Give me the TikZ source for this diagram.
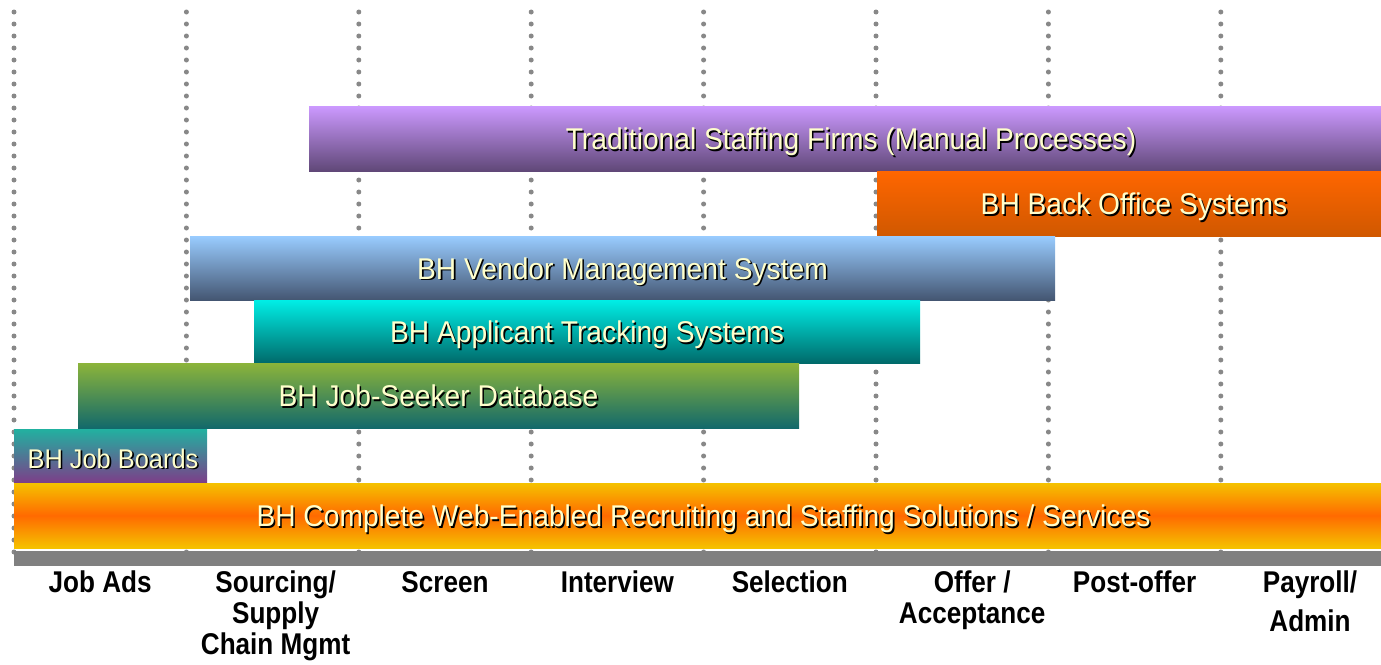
\documentclass[tikz,border=0pt]{standalone}
\usepackage{fontspec}
\usepackage{tikz}
\usetikzlibrary{shadings}

\newfontfamily\barfont{Liberation Sans}[FakeStretch=0.94]
\newfontfamily\stagefont{Liberation Sans}[FakeStretch=0.87]

\definecolor{dotgray}{HTML}{888888}
\definecolor{axisgray}{HTML}{808080}
\definecolor{labelyellow}{HTML}{FFFFCC}
\definecolor{tradtop}{HTML}{CC99FF}
\definecolor{tradbot}{HTML}{604878}
\definecolor{backtop}{HTML}{FF6600}
\definecolor{backbot}{HTML}{D05800}
\definecolor{vendtop}{HTML}{99CCFF}
\definecolor{vendbot}{HTML}{445672}
\definecolor{atstop}{HTML}{00EEE6}
\definecolor{atsbot}{HTML}{006A6A}
\definecolor{seektop}{HTML}{8CB43A}
\definecolor{seekbot}{HTML}{12696B}
\definecolor{boardtop}{HTML}{22B0A0}
\definecolor{boardbot}{HTML}{803A88}
\definecolor{webedge}{HTML}{F5C200}
\definecolor{webmid}{HTML}{FF6A00}

\newcommand\shadowtxt[1]{\rlap{\kern1.6pt\raisebox{-1.6pt}{\color{black}#1}}#1}

\begin{document}
\begin{tikzpicture}[x=1pt,y=-1pt,
    bar/.style={shade, draw=none, inner sep=0pt, text=labelyellow,
        font=\barfont\fontsize{30}{32}\selectfont,
        text height=22pt, text depth=0pt},
    stage/.style={anchor=north, inner sep=0pt, align=center,
        font=\stagefont\bfseries\fontsize{30}{31}\selectfont},
    gridline/.style={dotgray, line width=5pt, line cap=round,
        dash pattern=on 0pt off 12pt}]
                \def\colw{172.4}
                \useasboundingbox (0,0) rectangle (1381,664);

                \foreach \i in {0,...,7}
                    \draw[gridline] ({14+\i*\colw},12) -- ({14+\i*\colw},552);

                \node[bar, minimum width=1072, minimum height=65,
                    top color=tradtop, bottom color=tradbot] (trad) at (845,138.5)
                    {\hspace{12pt}\shadowtxt{Traditional Staffing Firms (Manual Processes)}};
                \node[bar, minimum width=504, minimum height=65,
                    top color=backtop, bottom color=backbot] (back) at (1129,203.5)
                    {\hspace{10pt}\shadowtxt{BH Back Office Systems}};
                \node[bar, minimum width=865, minimum height=64,
                    top color=vendtop, bottom color=vendbot] (vendor) at (622.5,268)
                    {\shadowtxt{BH Vendor Management System}};
                \node[bar, minimum width=666, minimum height=63,
                    top color=atstop, bottom color=atsbot] (ats) at (587,331.5)
                    {\shadowtxt{BH Applicant Tracking Systems}};
                \node[bar, minimum width=721, minimum height=65,
                    top color=seektop, bottom color=seekbot] (seeker) at (438.5,395.5)
                    {\shadowtxt{BH Job-Seeker Database}};
                \node[bar, minimum width=193, minimum height=55,
                    top color=boardtop, bottom color=boardbot,
                    font=\barfont\fontsize{27}{29}\selectfont] (boards) at (110.5,457)
                    {\hspace{5pt}\shadowtxt{BH Job Boards}};
                \node[bar, minimum width=1367, minimum height=65,
                    top color=webedge, bottom color=webedge, middle color=webmid] (web) at (697.5,515.5)
                    {\hspace{12pt}\shadowtxt{BH Complete Web-Enabled Recruiting and Staffing Solutions / Services}};

                \fill[axisgray] (14,550.5) rectangle (1381,566);

                \foreach \lbl/\dx [count=\i from 0] in {Job Ads/0, {Sourcing/\\Supply\\Chain Mgmt}/3,
                        Screen/0, Interview/0, Selection/0, {Offer /\\Acceptance}/10, Post-offer/0,
                        {Payroll/\\[8pt]Admin}/3}
                    \node[stage] (stage\i) at ({14+(\i+0.5)*\colw+\dx},571) {\lbl};
            \end{tikzpicture}
\end{document}
